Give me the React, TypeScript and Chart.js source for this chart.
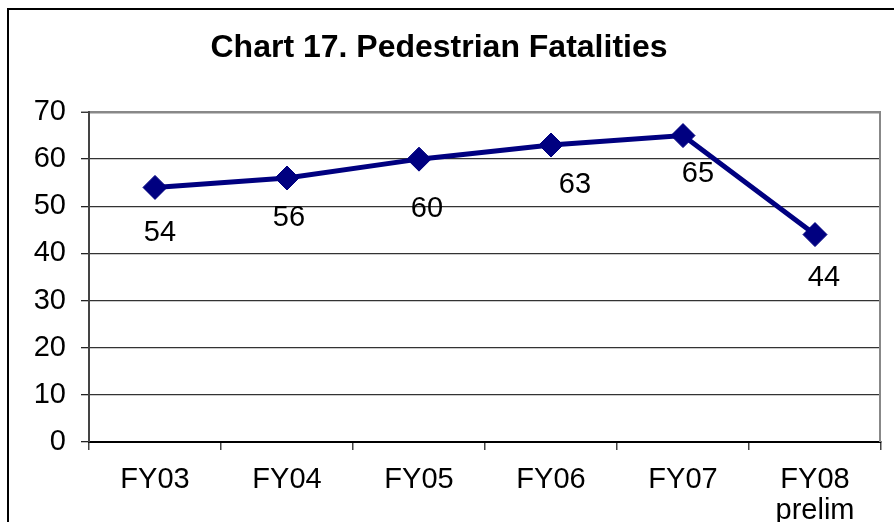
import React, { useEffect, useRef } from "react";
import { Chart, registerables } from "chart.js";

Chart.register(...registerables);

const TITLE = "Chart 17. Pedestrian Fatalities";
const CATEGORIES: (string | string[])[] = ["FY03", "FY04", "FY05", "FY06", "FY07", ["FY08", "prelim"]];
const FATALITIES = [54, 56, 60, 63, 65, 44];
const Y_MIN = 0;
const Y_MAX = 70;
const Y_STEP = 10;
// label placement relative to each point (style only): [dx, dy]
const LABEL_OFFSETS: [number, number][] = [
  [5, 44],
  [2, 38],
  [8, 48],
  [24, 38],
  [15, 36],
  [9, 41],
];

const FONT = "'Liberation Sans', Arial, sans-serif";

const decorPlugin = {
  id: "decor",
  beforeDraw(chart: any) {
    const ctx = chart.ctx;
    ctx.save();
    ctx.fillStyle = "#ffffff";
    ctx.fillRect(0, 0, chart.width, chart.height);
    ctx.restore();
  },
  afterDraw(chart: any) {
    const ctx = chart.ctx;
    const area = chart.chartArea;
    ctx.save();
    // outer frame
    ctx.strokeStyle = "#000";
    ctx.lineWidth = 2;
    ctx.strokeRect(8, 9, 1000, 1000);
    // right plot border
    ctx.strokeStyle = "#888";
    ctx.lineWidth = 2;
    ctx.beginPath();
    ctx.moveTo(area.right - 1, area.top);
    ctx.lineTo(area.right - 1, area.bottom);
    ctx.stroke();
    // title
    ctx.fillStyle = "#000";
    ctx.font = `bold 32px ${FONT}`;
    ctx.textAlign = "center";
    ctx.textBaseline = "alphabetic";
    ctx.fillText(TITLE, 439, 57);
    // data labels
    const meta = chart.getDatasetMeta(0);
    ctx.font = `29px ${FONT}`;
    meta.data.forEach((pt: any, i: number) => {
      const [dx, dy] = LABEL_OFFSETS[i];
      ctx.fillText(String(FATALITIES[i]), pt.x + dx, pt.y + dy + 10);
    });
    ctx.restore();
  },
};

export default function App() {
  const ref = useRef<HTMLCanvasElement>(null);
  useEffect(() => {
    if (!ref.current) return;
    const chart = new Chart(ref.current, {
      type: "line",
      data: {
        labels: CATEGORIES,
        datasets: [
          {
            data: FATALITIES,
            borderColor: "#000080",
            backgroundColor: "#000080",
            borderWidth: 5,
            pointStyle: "rectRot",
            pointRadius: 12,
            pointBorderWidth: 1,
            pointBackgroundColor: "#000080",
            pointBorderColor: "#000080",
            tension: 0,
          },
        ],
      },
      options: {
        responsive: false,
        animation: false,
        devicePixelRatio: 1,
        layout: { padding: { top: 112, right: 10, left: 0, bottom: 0 } },
        plugins: {
          legend: { display: false },
          title: { display: false },
          tooltip: { enabled: false },
        },
        scales: {
          x: {
            offset: true,
            afterFit: (s: any) => {
              s.height = 80;
            },
            grid: {
              offset: true,
              drawOnChartArea: false,
              drawTicks: true,
              tickLength: 8,
              color: "#444",
              lineWidth: 1.5,
            },
            border: { color: "#000", width: 2 },
            ticks: {
              color: "#000",
              padding: 15,
              maxRotation: 0,
              autoSkip: false,
              font: { family: FONT, size: 29, lineHeight: 1.05 },
            },
          },
          y: {
            min: Y_MIN,
            max: Y_MAX,
            afterFit: (s: any) => {
              s.width = 89;
            },
            grid: {
              color: (c: any) => (c.tick && c.tick.value === Y_MAX ? "#888" : "#333"),
              lineWidth: (c: any) => (c.tick && c.tick.value === Y_MAX ? 2.5 : 1.3),
              tickLength: 8,
              tickColor: "#222",
              tickWidth: 1.3,
            },
            border: { color: "#444", width: 2 },
            ticks: {
              stepSize: Y_STEP,
              color: "#000",
              padding: 15,
              font: { family: FONT, size: 29 },
            },
          },
        },
      },
      plugins: [decorPlugin],
    });
    return () => chart.destroy();
  }, []);
  return (
    <div style={{ position: "absolute", left: 0, top: 0, width: 894, height: 522 }}>
      <canvas ref={ref} width={894} height={522} />
    </div>
  );
}
